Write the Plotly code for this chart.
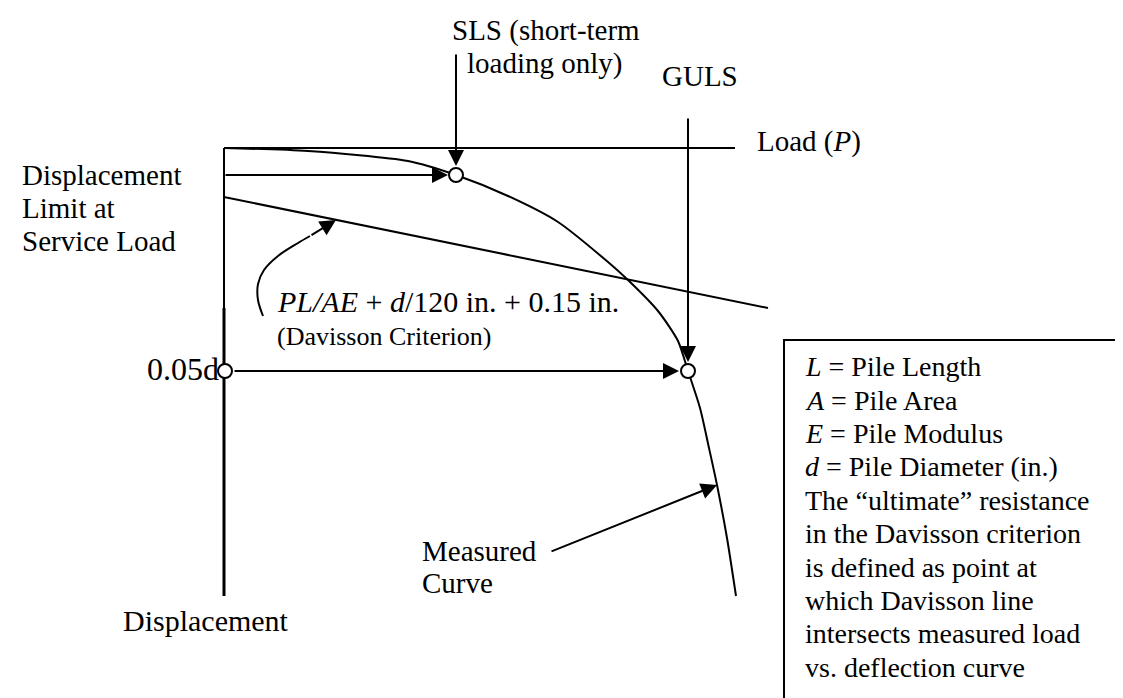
import plotly.graph_objects as go

# diagram drawn in a 1123 x 698 pixel frame (y grows downward)
W, H = 1123, 698

# measured load-displacement curve
curve_x = [216, 300, 400, 448, 500, 550, 600, 620, 650, 670, 680, 692, 701, 709, 719, 728]
curve_y = [140, 143, 153, 167, 188, 214, 254, 272, 303, 333, 363, 400, 440, 477, 530, 588]

# Davisson criterion line
davisson_x = [216, 760]
davisson_y = [189, 300]

# axes
load_axis_x = [216, 727]
load_axis_y = [140, 140]
disp_axis_top = [140, 300]
disp_axis_bottom = [300, 588]

# curved pointer to the Davisson line
hook_x = [255, 250, 250, 256, 270, 290, 302]
hook_y = [308, 292, 276, 262, 248, 235, 228]

# marked points: SLS, GULS, 0.05d on the axis
point_x = [448, 680, 217]
point_y = [167, 363, 363]

# arrows: (tail_x, tail_y, tip_x, tip_y)
arrows = [
    (216, 167, 440, 167),   # displacement limit -> SLS
    (448, 45, 448, 158),    # SLS label -> SLS point
    (680, 109, 680, 354),   # GULS label -> GULS point
    (225, 363, 671, 363),   # 0.05d -> GULS point
    (302, 228, 328, 212),   # hook head
    (542, 544, 709, 477),   # measured curve label
]

# labels: (text, x, baseline, size, anchor)
labels = [
    ("SLS (short-term", 442, 32, 29, "left"),
    ("loading only)", 457, 65, 29, "left"),
    ("GULS", 652, 78, 29, "left"),
    ("Load (<i>P</i>)", 747, 143, 29, "left"),
    ("Displacement", 12, 177, 29, "left"),
    ("Limit at", 12, 210, 29, "left"),
    ("Service Load", 12, 243, 29, "left"),
    ("0.05d", 213, 372, 32, "right"),
    ("<i>PL/AE</i> + <i>d</i>/120 in. + 0.15 in.", 267, 303, 30, "left"),
    ("(Davisson Criterion)", 267, 337, 26, "left"),
    ("Measured", 412, 553, 29, "left"),
    ("Curve", 412, 585, 29, "left"),
    ("Displacement", 113, 622, 30, "left"),
]

box_lines = [
    "<i>L</i> = Pile Length",
    "<i>A</i> = Pile Area",
    "<i>E</i> = Pile Modulus",
    "<i>d</i> = Pile Diameter (in.)",
    "The “ultimate” resistance",
    "in the Davisson criterion",
    "is defined as point at",
    "which Davisson line",
    "intersects measured load",
    "vs. deflection curve",
]
box_first_baseline = 368
box_line_step = 33.4

FONT = "Liberation Serif, Times New Roman, serif"

fig = go.Figure()


def line(xs, ys, w=2, shape="linear", smoothing=1):
    fig.add_trace(go.Scatter(x=xs, y=ys, mode="lines",
                             line=dict(color="black", width=w, shape=shape,
                                       smoothing=smoothing),
                             hoverinfo="skip", showlegend=False))


line(load_axis_x, load_axis_y)
line([216, 216], disp_axis_top, 2)
line([216, 216], disp_axis_bottom, 3)
line(davisson_x, davisson_y)
line(curve_x, curve_y, 2, "spline", 0.7)
line(hook_x, hook_y, 2, "spline")

fig.add_trace(go.Scatter(
    x=point_x, y=point_y, mode="markers",
    marker=dict(size=14, color="white", line=dict(color="black", width=2)),
    hoverinfo="skip", showlegend=False
))

# legend box
fig.add_shape(type="rect", x0=776, y0=332, x1=1135, y1=710,
              line=dict(color="black", width=2), fillcolor="rgba(0,0,0,0)")

annotations = []
for tx, ty, hx, hy in arrows:
    annotations.append(dict(
        x=hx, y=hy, ax=tx, ay=ty, xref="x", yref="y", axref="x", ayref="y",
        text="", showarrow=True, arrowhead=2, arrowsize=1.6, arrowwidth=2,
        arrowcolor="black"
    ))

for txt, x, base, size, anchor in labels:
    annotations.append(dict(
        x=x, y=base - 0.33 * size, xref="x", yref="y", text=txt,
        showarrow=False, xanchor=anchor, yanchor="middle",
        font=dict(family=FONT, size=size, color="black")
    ))

for i, txt in enumerate(box_lines):
    base = box_first_baseline + i * box_line_step
    annotations.append(dict(
        x=795, y=base - 0.33 * 28, xref="x", yref="y", text=txt,
        showarrow=False, xanchor="left", yanchor="middle",
        font=dict(family=FONT, size=28, color="black")
    ))

fig.update_layout(
    width=W, height=H,
    margin=dict(l=0, r=0, t=0, b=0),
    paper_bgcolor="white", plot_bgcolor="white",
    xaxis=dict(range=[0, W], visible=False, fixedrange=True),
    yaxis=dict(range=[H, 0], visible=False, fixedrange=True),
    annotations=annotations,
    showlegend=False,
)

fig.write_html("out.html")
